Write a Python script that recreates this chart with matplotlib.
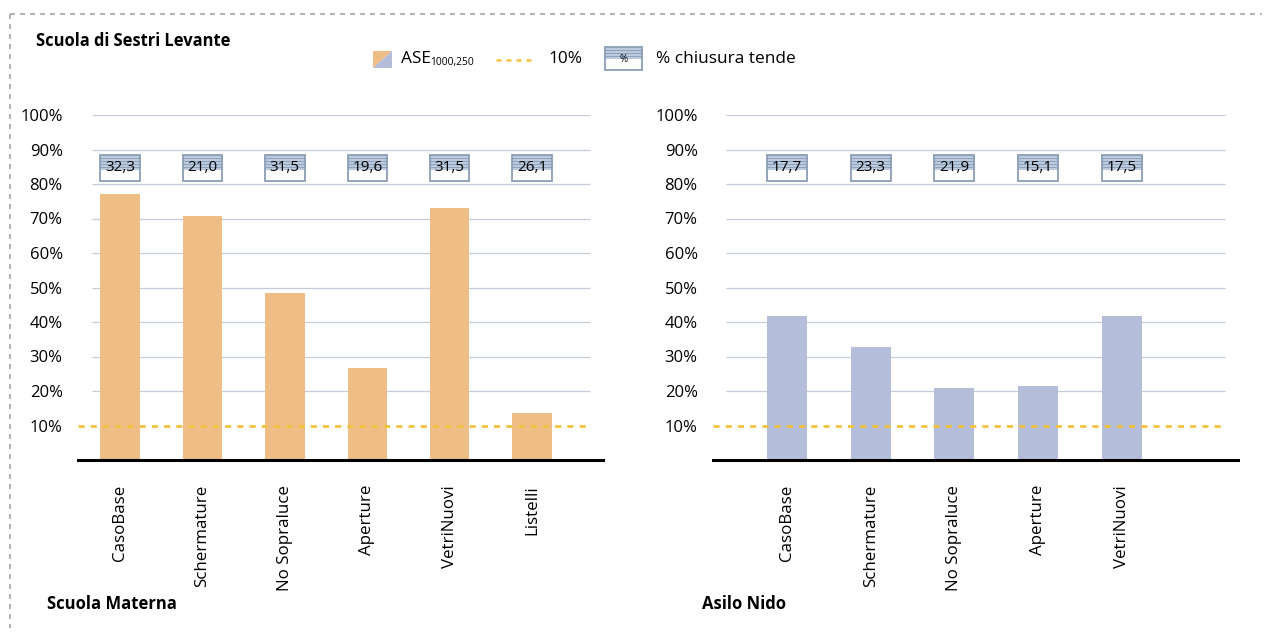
import matplotlib
matplotlib.use("Agg")
import matplotlib.pyplot as plt
from matplotlib.patches import Rectangle, Polygon

plt.rcParams["font.family"] = ["Open Sans", "DejaVu Sans"]

# ---- data -------------------------------------------------------------
materna_categories = ["CasoBase", "Schermature", "No Sopraluce", "Aperture", "VetriNuovi", "Listelli"]
materna_ase = [77.1, 70.8, 48.4, 26.7, 73.0, 13.7]          # ASE1000,250 [%]
materna_tende = [32.3, 21.0, 31.5, 19.6, 31.5, 26.1]        # % chiusura tende

nido_categories = ["CasoBase", "Schermature", "No Sopraluce", "Aperture", "VetriNuovi"]
nido_ase = [41.7, 32.8, 20.8, 21.5, 41.7]
nido_tende = [17.7, 23.3, 21.9, 15.1, 17.5]

threshold = 10
y_ticks = [10, 20, 30, 40, 50, 60, 70, 80, 90, 100]
y_tick_labels = [f"{t}%" for t in y_ticks]

# ---- style ------------------------------------------------------------
ORANGE = "#efbe86"
BLUE = "#b4bdd9"
GOLD = "#f2c23e"
GRID = "#c3ccd8"
BOX_EDGE = "#8b9eb6"
BOX_FILL = "#bccade"
BOX_LINE = "#8fa2bc"

W, H = 1265, 637
fig = plt.figure(figsize=(W / 100, H / 100), dpi=100)

# overlay in pixel coordinates for frame, title and legend
deco = fig.add_axes([0, 0, 1, 1], zorder=-1)
deco.set_xlim(0, W)
deco.set_ylim(H, 0)
deco.axis("off")

deco.plot([10, 1262], [14, 14], color="#a6a6a6", lw=1.2, ls=(0, (3, 3)))
deco.plot([10, 10], [14, 628], color="#a6a6a6", lw=1.2, ls=(0, (3, 3)))

deco.text(36, 41, "Scuola di Sestri Levante", fontsize=11.9, fontweight="bold",
          ha="left", va="center")
deco.text(47, 604, "Scuola Materna", fontsize=12.0, fontweight="bold", ha="left", va="center")
deco.text(702, 604, "Asilo Nido", fontsize=12.0, fontweight="bold", ha="left", va="center")


def tende_box(ax, x0, x1, y0, ymid, y1, n_lines):
    """Striped marker box: striped upper half, white lower half."""
    ax.add_patch(Rectangle((x0, ymid), x1 - x0, y1 - ymid, facecolor=BOX_FILL,
                           edgecolor="none", zorder=4))
    ax.add_patch(Rectangle((x0, y0), x1 - x0, ymid - y0, facecolor="white",
                           edgecolor="none", zorder=4))
    step = (y1 - ymid) / (n_lines + 1)
    for k in range(1, n_lines + 1):
        ax.plot([x0, x1], [ymid + k * step] * 2, color=BOX_LINE, lw=0.7, zorder=5)
    ax.add_patch(Rectangle((x0, y0), x1 - x0, y1 - y0, facecolor="none",
                           edgecolor=BOX_EDGE, lw=1.3, zorder=6))


# legend
deco.add_patch(Polygon([(373, 68), (373, 51), (392, 51)], closed=True, facecolor=ORANGE,
                       edgecolor="none"))
deco.add_patch(Polygon([(373, 68), (392, 51), (392, 68)], closed=True, facecolor=BLUE,
                       edgecolor="none"))
deco.text(401, 59, "ASE", fontsize=12.4, ha="left", va="center")
deco.text(430, 63, "1000,250", fontsize=7.4, ha="left", va="center")
deco.plot([496, 534], [60, 60], color=GOLD, lw=1.8, ls=(0, (2, 2)))
deco.text(548, 59, "10%", fontsize=12.4, ha="left", va="center")
tende_box(deco, 605, 642, 70, 59, 47, 3)
deco.text(623.5, 59, "%", fontsize=7, ha="center", va="center", zorder=7)
deco.text(656, 59, "% chiusura tende", fontsize=12.4, ha="left", va="center")


def panel(left_px, xlim, grid_span, categories, ase, tende, color):
    ax = fig.add_axes([left_px / W, (H - 460) / H, 525 / W, 345 / H])
    ax.set_facecolor("none")
    ax.set_xlim(*xlim)
    ax.set_ylim(0, 100)
    x = list(range(len(categories)))
    width = 0.48

    for t in y_ticks:
        if t != threshold:
            ax.hlines(t, grid_span[0], grid_span[1], color=GRID, lw=0.9, zorder=1)
    ax.bar(x, ase, width=width, color=color, zorder=2)
    ax.hlines(threshold, xlim[0], grid_span[1], color=GOLD, lw=2.0,
              linestyles=(0, (2.2, 2.2)), zorder=3)

    for xi, v in zip(x, tende):
        tende_box(ax, xi - width / 2, xi + width / 2, 81.0, 84.2, 88.4, 4)
        ax.text(xi, 84.7, f"{v:.1f}".replace(".", ","), fontsize=11,
                ha="center", va="center", zorder=7)

    for s in ("top", "right", "left"):
        ax.spines[s].set_visible(False)
    ax.spines["bottom"].set_color("black")
    ax.spines["bottom"].set_linewidth(2.2)
    ax.set_yticks(y_ticks)
    ax.set_yticklabels(y_tick_labels, fontsize=12)
    ax.set_xticks(x)
    ax.set_xticklabels(categories, rotation=90, fontsize=12.2, va="top", ha="center")
    ax.tick_params(axis="y", length=0, pad=11)
    ax.tick_params(axis="x", length=0, pad=18)
    return ax


panel(78, (-0.51, 5.86), (-0.34, 5.70), materna_categories, materna_ase, materna_tende, ORANGE)
panel(713, (-0.884, 5.388), (-0.73, 5.23), nido_categories, nido_ase, nido_tende, BLUE)

fig.savefig("out.png", dpi=100)
